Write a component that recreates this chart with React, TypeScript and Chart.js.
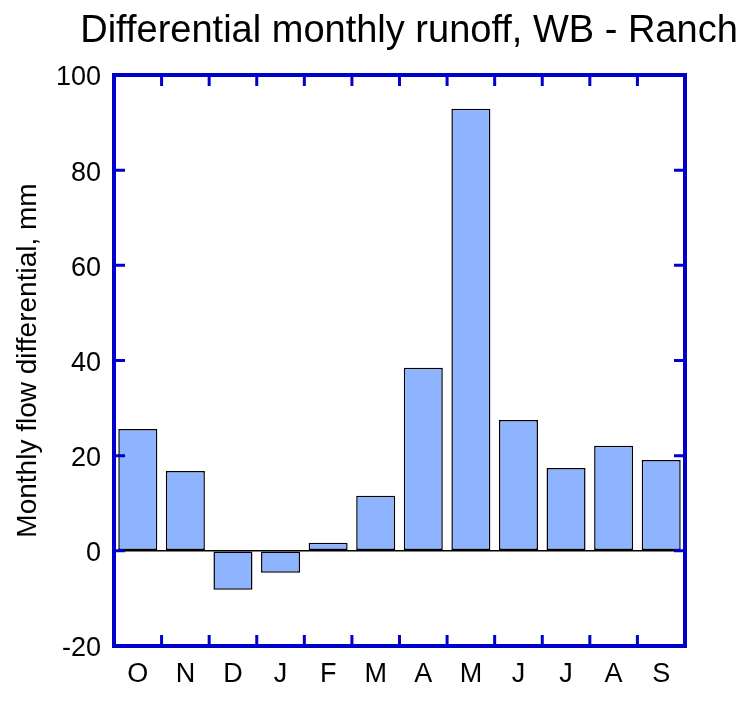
import { useEffect, useRef } from "react";
import { Chart, registerables } from "chart.js";

Chart.register(...registerables);

const months = ["O", "N", "D", "J", "F", "M", "A", "M", "J", "J", "A", "S"];
const runoffDiff = [25.6, 16.8, -8.2, -4.6, 1.7, 11.6, 38.5, 92.9, 27.5, 17.4, 22.1, 19.1];
const yTicks = [-20, 0, 20, 40, 60, 80, 100];

const FRAME = "rgb(0,0,204)";
const FONT = "'Liberation Sans', Arial, sans-serif";

// frame, inward ticks and title drawn on top of the chart
const framePlugin = {
  id: "frame",
  afterDraw(chart: any) {
    const { ctx, chartArea: a, scales } = chart;
    const x = scales.x;
    const y = scales.y;
    ctx.save();
    ctx.strokeStyle = FRAME;
    ctx.lineWidth = 3;
    ctx.beginPath();
    yTicks.forEach((v) => {
      const py = y.getPixelForValue(v);
      ctx.moveTo(a.left, py);
      ctx.lineTo(a.left + 11, py);
      ctx.moveTo(a.right, py);
      ctx.lineTo(a.right - 11, py);
    });
    for (let i = 1; i < months.length; i++) {
      const px = (x.getPixelForValue(i - 1) + x.getPixelForValue(i)) / 2;
      ctx.moveTo(px, a.top);
      ctx.lineTo(px, a.top + 11);
      ctx.moveTo(px, a.bottom);
      ctx.lineTo(px, a.bottom - 11);
    }
    ctx.stroke();
    ctx.lineWidth = 4;
    ctx.strokeRect(a.left, a.top, a.right - a.left, a.bottom - a.top);

    ctx.fillStyle = "#000";
    ctx.font = `38px ${FONT}`;
    ctx.textAlign = "center";
    ctx.textBaseline = "alphabetic";
    ctx.fillText("Differential monthly runoff, WB - Ranch", 409, 42);
    ctx.restore();
  },
};

export default function App() {
  const canvasRef = useRef<HTMLCanvasElement | null>(null);

  useEffect(() => {
    if (!canvasRef.current) return;
    const chart = new Chart(canvasRef.current, {
      type: "bar",
      data: {
        labels: months,
        datasets: [
          {
            label: "Differential",
            data: runoffDiff,
            backgroundColor: "#8fb4ff",
            borderColor: "#000",
            borderWidth: 1.5,
            borderSkipped: false,
            barPercentage: 0.82,
            categoryPercentage: 1,
          },
        ],
      },
      options: {
        responsive: false,
        animation: false,
        layout: { padding: { top: 75, right: 64, left: 0, bottom: 0 } },
        plugins: {
          legend: { display: false },
          tooltip: { enabled: false },
        },
        scales: {
          x: {
            offset: true,
            grid: { display: false },
            border: { display: false },
            ticks: {
              color: "#000",
              padding: 4,
              font: { family: FONT, size: 27 },
            },
            afterFit: (s: any) => {
              s.height = 63;
            },
          },
          y: {
            min: -20,
            max: 100,
            border: { display: false },
            grid: {
              drawTicks: false,
              color: (c: any) => (c.tick && c.tick.value === 0 ? "#000" : "transparent"),
              lineWidth: 1.5,
            },
            ticks: {
              stepSize: 20,
              color: "#000",
              padding: 13,
              labelOffset: 3,
              font: { family: FONT, size: 27 },
            },
            title: {
              display: true,
              text: "Monthly flow differential, mm",
              color: "#000",
              font: { family: FONT, size: 28 },
              padding: { top: 11, bottom: 0 },
            },
            afterFit: (s: any) => {
              s.width = 114;
            },
          },
        },
      },
      plugins: [framePlugin],
    });
    return () => chart.destroy();
  }, []);

  return (
    <div style={{ position: "absolute", left: 0, top: 0, width: 749, height: 709, background: "#fff" }}>
      <canvas ref={canvasRef} width={749} height={709} />
    </div>
  );
}
